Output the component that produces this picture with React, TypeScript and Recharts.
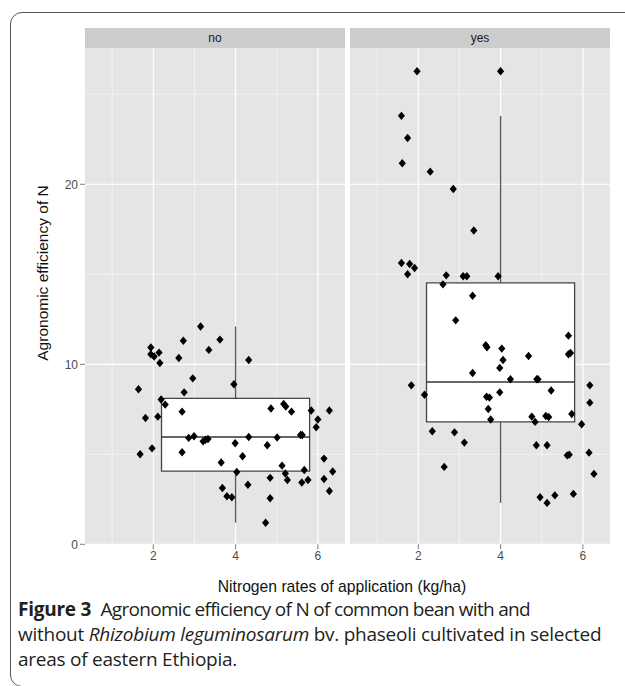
import React from "react";
import {
  ScatterChart,
  Scatter,
  XAxis,
  YAxis,
  CartesianGrid,
  ReferenceArea,
  ReferenceLine
} from "recharts";

const noRate = [
  3.15, 1.94, 3.62, 2.73, 1.94, 2.02, 2.14, 2.16, 3.35, 2.62, 4.32, 2.96, 1.64, 3.96, 2.75, 2.19,
  2.29, 2.7, 1.81, 2.11, 4.86, 5.17, 5.22, 5.36, 5.84, 6.28, 6.0, 5.96, 2.86, 2.99, 3.21, 3.27,
  3.33, 4.32, 5.01, 5.58, 5.62, 3.99, 4.77, 1.97, 1.68, 2.7, 4.17, 3.65, 5.13, 4.03, 5.21, 5.67,
  6.15, 6.36, 4.84, 5.26, 5.61, 5.76, 6.15, 4.3, 3.68, 6.28, 3.79, 3.91, 4.84, 4.73
];
const noAE = [
  12.1, 10.93, 11.37, 11.31, 10.56, 10.43, 10.65, 10.07, 10.8, 10.35, 10.24, 9.22, 8.61, 8.89, 8.44, 8.04,
  7.76, 7.37, 7.02, 7.09, 7.54, 7.8, 7.65, 7.37, 7.43, 7.43, 6.93, 6.5, 5.91, 6.0, 5.72, 5.81,
  5.85, 5.96, 5.93, 6.07, 6.07, 5.61, 5.5, 5.33, 5.0, 5.11, 4.89, 4.54, 4.37, 4.02, 3.93, 4.13,
  4.76, 4.04, 3.69, 3.57, 3.43, 3.57, 3.63, 3.31, 3.13, 2.96, 2.67, 2.61, 2.56, 1.2
];
const yesRate = [
  1.97, 1.59, 1.74, 1.61, 2.29, 2.85, 3.35, 1.59, 1.79, 1.91, 1.74, 2.68, 3.09, 3.18, 3.94, 2.6,
  3.32, 2.91, 5.65, 3.64, 3.67, 4.03, 5.65, 5.7, 4.06, 4.68, 3.98, 3.32, 4.24, 4.88, 4.91, 1.83,
  6.17, 5.23, 2.15, 3.98, 3.66, 3.73, 6.17, 3.7, 5.73, 4.76, 5.1, 5.17, 4.84, 3.76, 5.97, 2.34,
  2.88, 3.12, 4.87, 5.13, 5.62, 5.67, 6.15, 2.63, 6.27, 4.96, 5.32, 5.13, 5.77
];
const yesAE = [
  26.28, 23.8, 22.57, 21.17, 20.7, 19.74, 17.43, 15.63, 15.57, 15.35, 15.0, 14.94, 14.89, 14.89, 14.89, 14.44,
  13.81, 12.44, 11.59, 11.06, 10.94, 10.87, 10.56, 10.63, 10.24, 10.46, 9.8, 9.52, 9.17, 9.17, 9.17, 8.83,
  8.83, 8.54, 8.31, 8.44, 8.2, 8.15, 7.87, 7.52, 7.24, 7.09, 7.13, 7.07, 6.8, 6.93, 6.67, 6.28,
  6.22, 5.65, 5.5, 5.5, 4.94, 4.98, 5.09, 4.3, 3.91, 2.61, 2.72, 2.3, 2.8
];

// boxplot summaries: [lower whisker, Q1, median, Q3, upper whisker]
const noBox = [1.2, 4.06, 5.96, 8.11, 12.1];
const yesBox = [2.3, 6.8, 9.02, 14.52, 23.8];
const yesOutliers = [26.28];
const boxCentre = 4;
const boxEdges = [2.2, 5.8];

const xTicks = [2, 4, 6];
const xMinor = [1, 3, 5];
const yTicks = [0, 10, 20];
const yMinor = [5, 15, 25];
const xDomain = [0.34, 6.66];
const yDomain = [0, 27.57];

const toPoints = (xs: number[], ys: number[]) => xs.map((x, i) => ({ x, y: ys[i] }));

const Diamond = (props: any) => {
  const { cx, cy } = props;
  if (cx == null || cy == null) return null;
  return (
    <path
      d={`M${cx},${cy - 4.2}L${cx + 3.6},${cy}L${cx},${cy + 4.2}L${cx - 3.6},${cy}Z`}
      fill="#000"
    />
  );
};

const font = "'Liberation Sans', Arial, sans-serif";

function Panel({
  label,
  points,
  box,
  outliers,
  showY,
  left
}: {
  label: string;
  points: { x: number; y: number }[];
  box: number[];
  outliers: number[];
  showY: boolean;
  left: number;
}) {
  const yAxisW = showY ? 85 : 0;
  const chartW = yAxisW + 260;
  return (
    <div style={{ position: "absolute", left: left - yAxisW, top: 0 }}>
      <div
        style={{
          position: "absolute",
          left: yAxisW,
          top: 28,
          width: 260,
          height: 20,
          background: "#cccccc",
          color: "#1a1a1a",
          fontFamily: font,
          fontSize: 12,
          lineHeight: "20px",
          textAlign: "center"
        }}
      >
        {label}
      </div>
      <ScatterChart
        width={chartW}
        height={600}
        margin={{ top: 48, right: 0, bottom: 0, left: 0 }}
      >
        <CartesianGrid
          fill="#e5e5e5"
          stroke="#f7f7f7"
          strokeWidth={0.7}
          horizontalValues={yMinor}
          verticalValues={xMinor}
        />
        <CartesianGrid
          stroke="#ffffff"
          strokeWidth={1.2}
          horizontalValues={yTicks}
          verticalValues={xTicks}
        />
        <XAxis
          type="number"
          dataKey="x"
          domain={xDomain}
          ticks={xTicks}
          allowDataOverflow
          height={55.7}
          axisLine={false}
          tickSize={5}
          tickLine={{ stroke: "#7f7f7f" }}
          tick={{ fill: "#4d4d4d", fontSize: 12, fontFamily: font }}
        />
        <YAxis
          type="number"
          dataKey="y"
          domain={yDomain}
          ticks={yTicks}
          allowDataOverflow
          hide={!showY}
          width={yAxisW}
          axisLine={false}
          tickSize={5}
          tickLine={{ stroke: "#7f7f7f" }}
          tick={{ fill: "#4d4d4d", fontSize: 12, fontFamily: font }}
        />
        <ReferenceLine
          segment={[{ x: boxCentre, y: box[0] }, { x: boxCentre, y: box[1] }]}
          stroke="#555"
          strokeWidth={1.3}
        />
        <ReferenceLine
          segment={[{ x: boxCentre, y: box[3] }, { x: boxCentre, y: box[4] }]}
          stroke="#555"
          strokeWidth={1.3}
        />
        <ReferenceArea
          x1={boxEdges[0]}
          x2={boxEdges[1]}
          y1={box[1]}
          y2={box[3]}
          fill="#ffffff"
          fillOpacity={1}
          stroke="#444"
          strokeWidth={1.3}
        />
        <ReferenceLine
          segment={[{ x: boxEdges[0], y: box[2] }, { x: boxEdges[1], y: box[2] }]}
          stroke="#333"
          strokeWidth={1.6}
        />
        <Scatter
          data={outliers.map((y) => ({ x: boxCentre, y }))}
          shape={<Diamond />}
          isAnimationActive={false}
        />
        <Scatter data={points} shape={<Diamond />} isAnimationActive={false} />
      </ScatterChart>
    </div>
  );
}

export default function App() {
  return (
    <div
      style={{
        position: "absolute",
        left: 0,
        top: 0,
        width: 625,
        height: 686,
        overflow: "hidden",
        background: "#fff"
      }}
    >
      <div
        style={{
          position: "absolute",
          left: 10,
          top: 12,
          width: 1000,
          height: 673,
          border: "1.3px solid #555",
          borderRadius: 12
        }}
      />
      <Panel label="no" points={toPoints(noRate, noAE)} box={noBox} outliers={[]} showY left={85} />
      <Panel
        label="yes"
        points={toPoints(yesRate, yesAE)}
        box={yesBox}
        outliers={yesOutliers}
        showY={false}
        left={350}
      />
      <div
        style={{
          position: "absolute",
          left: 43,
          top: 273,
          transform: "translate(-50%, -50%) rotate(-90deg)",
          whiteSpace: "nowrap",
          fontFamily: font,
          fontSize: 15.5,
          color: "#111"
        }}
      >
        Agronomic efficiency of N
      </div>
      <div
        style={{
          position: "absolute",
          left: 342,
          top: 587,
          transform: "translate(-50%, -50%)",
          whiteSpace: "nowrap",
          fontFamily: font,
          fontSize: 15.7,
          color: "#111"
        }}
      >
        Nitrogen rates of application (kg/ha)
      </div>
      <div
        style={{
          position: "absolute",
          left: 18,
          top: 597,
          width: 620,
          whiteSpace: "nowrap",
          fontFamily: "'Open Sans', sans-serif",
          fontSize: 19,
          lineHeight: "25px",
          letterSpacing: -0.25,
          color: "#231f20"
        }}
      >
        <b>Figure 3</b>&nbsp;{" "}
        <span style={{ letterSpacing: -0.7 }}>Agronomic efficiency of N of common bean with and</span>
        <br />
        without <i>Rhizobium leguminosarum</i> bv. phaseoli cultivated in selected
        <br />
        areas of eastern Ethiopia.
      </div>
    </div>
  );
}
